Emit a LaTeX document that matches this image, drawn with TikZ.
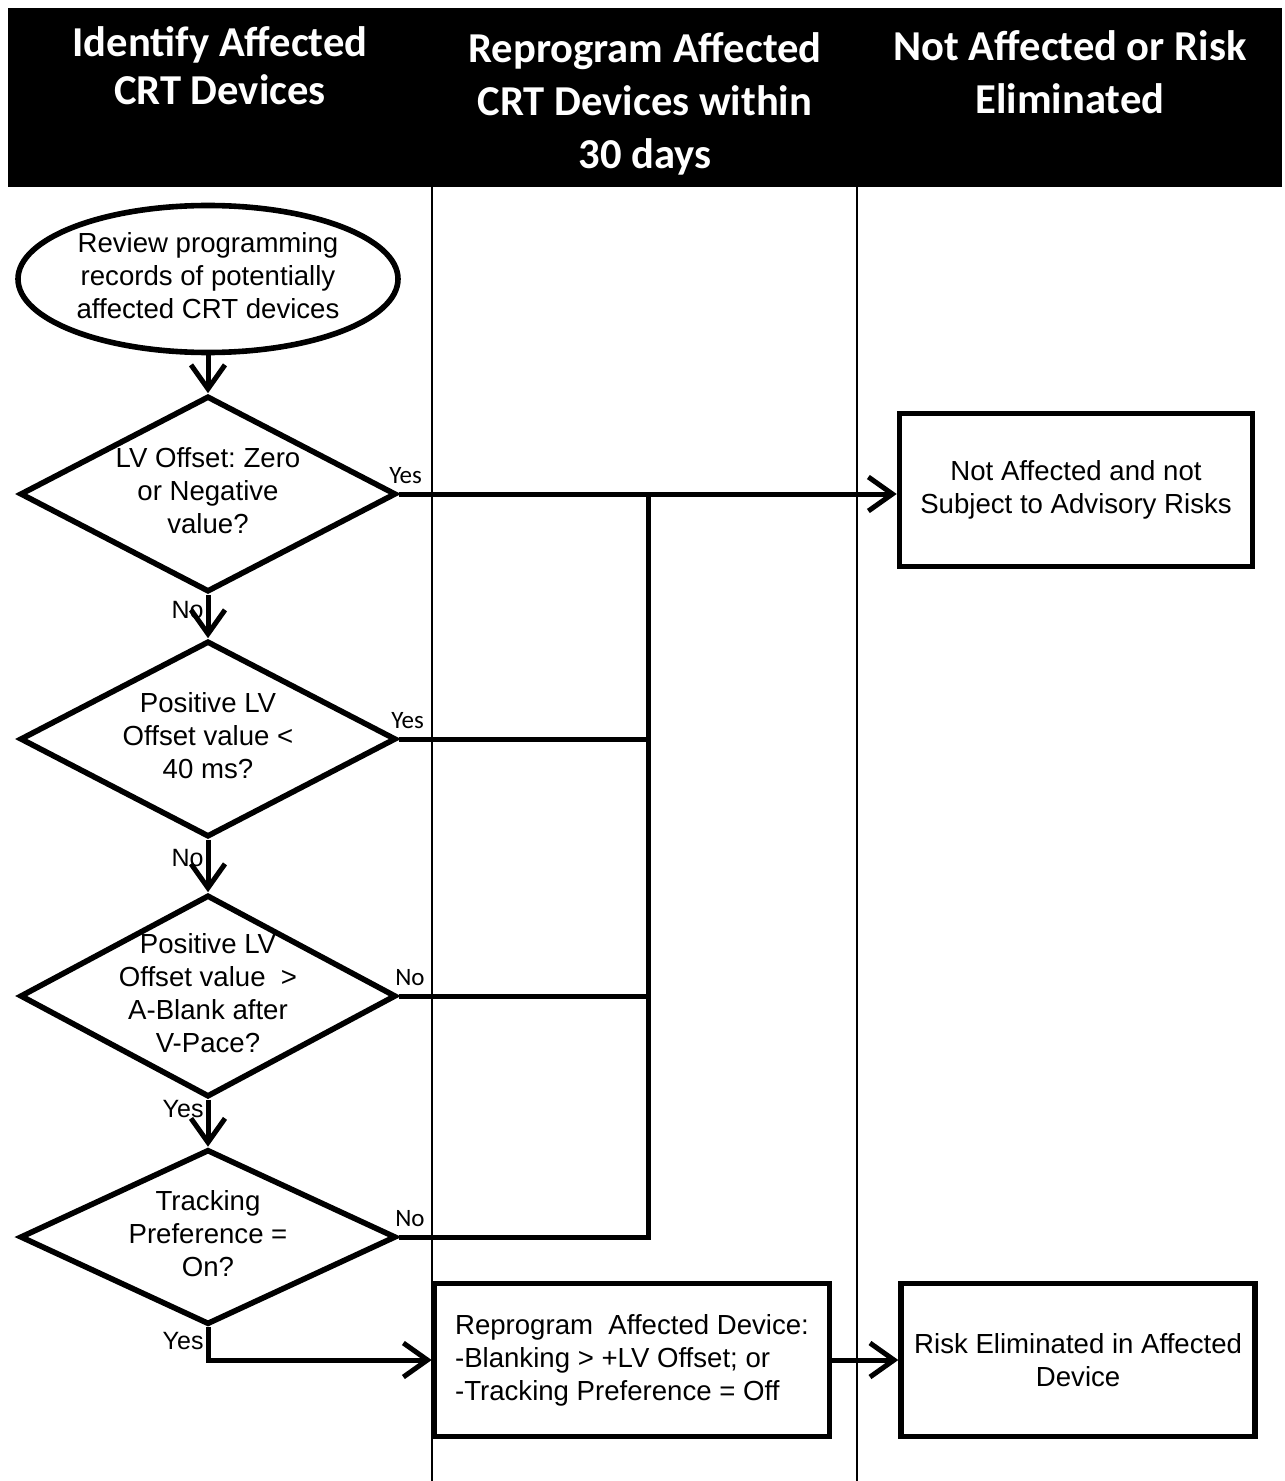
\documentclass[tikz,border=0pt]{standalone}
\usepackage{fontspec}
\setmainfont{Liberation Sans}
\newfontfamily\hdrfont{Carlito}
\usepackage{tikz}
\usetikzlibrary{shapes.geometric,arrows.meta,positioning}
\newcommand{\ctr}[1]{\makebox[0pt]{\begin{tabular}{@{}c@{}}#1\end{tabular}}}
\frenchspacing

\begin{document}
\begin{tikzpicture}[x=0.5pt,y=-0.5pt,line width=2.5pt,>={Straight Barb[length=12pt,width=17pt]}]
\tikzstyle{hdr}=[text=white,font=\hdrfont\bfseries\fontsize{21.3}{26.5}\selectfont,align=center]
\tikzstyle{startnode}=[ellipse,draw,line width=2.8pt,minimum width=190pt,minimum height=73.5pt,inner sep=0pt,font=\fontsize{13.8}{16.5}\selectfont]
\tikzstyle{decision}=[diamond,draw,line width=2.8pt,minimum width=188pt,minimum height=98pt,inner sep=0pt,font=\fontsize{13.8}{16.5}\selectfont]
\tikzstyle{procbox}=[rectangle,draw,line width=2.8pt,minimum height=76.5pt,inner sep=0pt,align=center,font=\fontsize{13.8}{16.5}\selectfont]
\tikzstyle{ylbl}=[font=\hdrfont\fontsize{12.5}{14}\selectfont,inner sep=1pt]
\tikzstyle{nlbl}=[font=\fontsize{12.5}{14}\selectfont,inner sep=1pt]
\path[fill=white,use as bounding box] (0,0) rectangle (1284,1481);
% swim lanes
\fill[black] (8,8) rectangle (1282,187);
\node[hdr,font=\hdrfont\bfseries\fontsize{21.3}{24}\selectfont] (h1) at (220,66) {Identify Affected\\CRT Devices};
\node[hdr] (h2) at (645,104) {Reprogram Affected\\CRT Devices within\\30 days};
\node[hdr] (h3) at (1070,72) {Not Affected or Risk\\Eliminated};
\draw[line width=1pt] (432,187) -- (432,1481);
\draw[line width=1pt] (857,187) -- (857,1481);
% decisions
\node[startnode] (rev) at (208,279) {\ctr{Review programming\\records of potentially\\affected CRT devices}};
\node[decision,below of=rev,node distance=107.5pt] (lvz) {\ctr{LV Offset: Zero\\or Negative\\value?}};
\node[decision,below of=lvz,node distance=122.5pt] (lvpos) {\ctr{Positive LV\\Offset value <\\40 ms?}};
\node[decision,below of=lvpos,node distance=128.5pt,minimum height=101pt] (lvblank) {\ctr{Positive LV\\Offset value\ \ >\\A-Blank after\\V-Pace?}};
\node[decision,below of=lvblank,node distance=120.5pt,minimum height=87.5pt] (track) {\ctr{Tracking\\Preference =\\On?}};
% outcomes
\node[procbox,minimum width=176.5pt] (nab) at (1076,490) {Not Affected and not\\Subject to Advisory Risks};
\node[procbox,minimum width=197.5pt,align=left] (repro) at (632,1360) {Reprogram\ \ Affected Device:\\-Blanking > +LV Offset; or\\-Tracking Preference = Off};
\node[procbox,minimum width=177pt,right=33pt of repro] (risk) {Risk Eliminated in Affected\\Device};
\coordinate (j1) at (648,494);
\coordinate (j4) at (track.east -| j1);
\draw[->] (rev) -- (lvz);
\draw[->] (lvz) -- node[nlbl,left,pos=0.35]{No} (lvpos);
\draw[->] (lvpos) -- node[nlbl,left,pos=0.35]{No} (lvblank);
\draw[->] (lvblank) -- node[nlbl,left,pos=0.2]{Yes} (track);
\draw[->] (track.south) |- node[nlbl,left,pos=0.21]{Yes} (repro.west);
\draw[->] (lvz.east) -- node[ylbl,pos=0,anchor=south west,xshift=-7pt,yshift=3pt]{Yes} (lvz.east -| nab.west);
\draw (lvpos.east) -- node[ylbl,pos=0,anchor=south west,xshift=-6pt,yshift=3pt]{Yes} (lvpos.east -| j1);
\draw (lvblank.east) -- node[ylbl,pos=0,anchor=south west,xshift=-4pt,yshift=3pt]{No} (lvblank.east -| j1);
\draw[line join=miter] (track.east) -- node[ylbl,pos=0,anchor=south west,xshift=-4pt,yshift=3pt]{No} (j4) -- (j1);
\draw[->] (repro) -- (risk);
\end{tikzpicture}
\end{document}
